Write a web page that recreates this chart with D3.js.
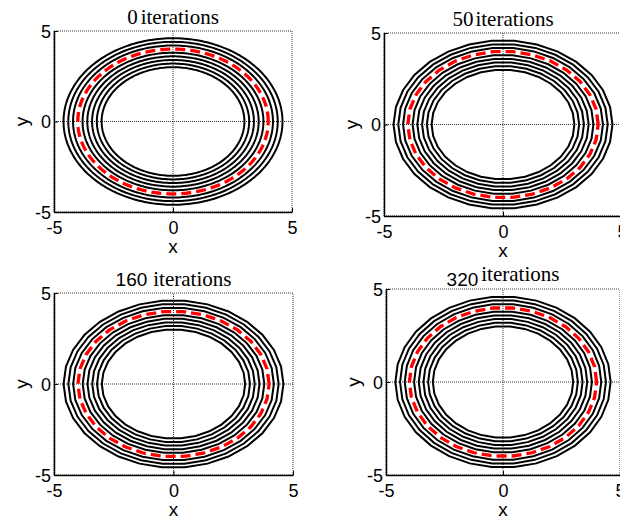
<!DOCTYPE html>
<html><head><meta charset="utf-8">
<script src="https://cdn.jsdelivr.net/npm/d3@7"></script>
<style>body{margin:0;background:#fff}svg{display:block}</style>
</head><body>
<script>
// Data
const panelTitlesNum = ["0", "50", "160", "320"];
const panelTitleWord = "iterations";
const contourLevels = [3.0, 3.2, 3.4, 3.6, 3.8, 4.2, 4.4, 4.6];
const targetLevel = [4.0];
const tickValues = [-5, 0, 5];
const tickLabels = ["-5", "0", "5"];
const domainX = [-5, 5];
const domainY = [-5, 5];

// Layout (pixel boxes of each axes)
const boxes = [
  {l: 54, r: 292, t: 31, b: 212, seg: 240, numFont: "serif", raised: false, gap: 3},
  {l: 384, r: 622, t: 33, b: 216, seg: 30, numFont: "serif", raised: false, gap: 2},
  {l: 54, r: 293, t: 293, b: 475, seg: 30, numFont: "sans", raised: false, gap: 6},
  {l: 386, r: 620, t: 289, b: 475, seg: 30, numFont: "sans", raised: true, gap: 3}
];

const W = 620, H = 516;
const svg = d3.select("body").append("svg").attr("width", W).attr("height", H)
  .style("font-family", "'Liberation Sans', Arial, sans-serif");

boxes.forEach((bx, i) => {
  const x = d3.scaleLinear().domain(domainX).range([bx.l, bx.r]);
  const y = d3.scaleLinear().domain(domainY).range([bx.b, bx.t]);
  const g = svg.append("g");

  // grid (dotted)
  const gridStyle = sel => sel.attr("stroke", "#333").attr("stroke-width", 1)
    .attr("stroke-dasharray", "1,1").attr("fill", "none");
  tickValues.forEach(v => {
    g.append("line").attr("x1", x(v)).attr("x2", x(v)).attr("y1", y(-5)).attr("y2", y(5)).call(gridStyle);
    g.append("line").attr("x1", x(-5)).attr("x2", x(5)).attr("y1", y(v)).attr("y2", y(v)).call(gridStyle);
  });

  // contours
  const n = bx.seg;
  const angles = d3.range(n + 1).map(k => k / n * 2 * Math.PI);
  const line = d3.line().x(d => d[0]).y(d => d[1]);
  const ring = r => line(angles.map(a => [x(r * Math.cos(a)), y(r * Math.sin(a))])) + "Z";
  g.selectAll("path.c").data(contourLevels).join("path").attr("class", "c")
    .attr("d", ring).attr("fill", "none").attr("stroke", "#000").attr("stroke-width", 2);
  g.selectAll("path.t").data(targetLevel).join("path").attr("class", "t")
    .attr("d", ring).attr("fill", "none").attr("stroke", "#ff0000").attr("stroke-width", 3.3)
    .attr("stroke-dasharray", "10,5");

  // axes
  const xAxis = d3.axisBottom(x).tickValues(tickValues).tickFormat((d, k) => tickLabels[k]).tickSizeInner(-4).tickSizeOuter(0).tickPadding(9);
  const yAxis = d3.axisLeft(y).tickValues(tickValues).tickFormat((d, k) => tickLabels[k]).tickSizeInner(-4).tickSizeOuter(0).tickPadding(3);
  const ax = g.append("g").attr("transform", `translate(0,${bx.b})`).call(xAxis);
  const ay = g.append("g").attr("transform", `translate(${bx.l},0)`).call(yAxis);
  [ax, ay].forEach(a => {
    a.select(".domain").attr("stroke", "#000").attr("stroke-width", 1.5);
    a.selectAll(".tick line").attr("stroke", "#000");
    a.selectAll("text").attr("fill", "#000").style("font-size", "18px")
      .style("font-family", "'Liberation Sans', Arial, sans-serif");
  });
  ax.selectAll("text").attr("dy", "0.72em");
  ay.selectAll("text").attr("dy", "0.36em");

  // axis labels
  g.append("text").attr("x", x(0)).attr("y", bx.b + 41).attr("text-anchor", "middle")
    .style("font-size", "19px").text("x");
  g.append("text").attr("transform", `translate(${bx.l - 32},${y(0)}) rotate(-90)`)
    .attr("text-anchor", "middle").attr("dy", "0.3em").style("font-size", "19px").text("y");

  // title
  const tt = g.append("text").attr("x", x(0)).attr("y", bx.t - 7).attr("text-anchor", "middle")
    .style("font-size", "21px").style("font-family", "'Liberation Serif', 'Times New Roman', serif");
  const num = tt.append("tspan").text(panelTitlesNum[i]);
  if (bx.numFont === "sans") num.style("font-family", "'Liberation Sans', Arial, sans-serif").style("font-size", "19px");
  if (bx.raised) num.attr("dy", 4);
  const word = tt.append("tspan").text(panelTitleWord).attr("dx", bx.gap);
  if (bx.raised) word.attr("dy", -5);
});
</script>
</body></html>
